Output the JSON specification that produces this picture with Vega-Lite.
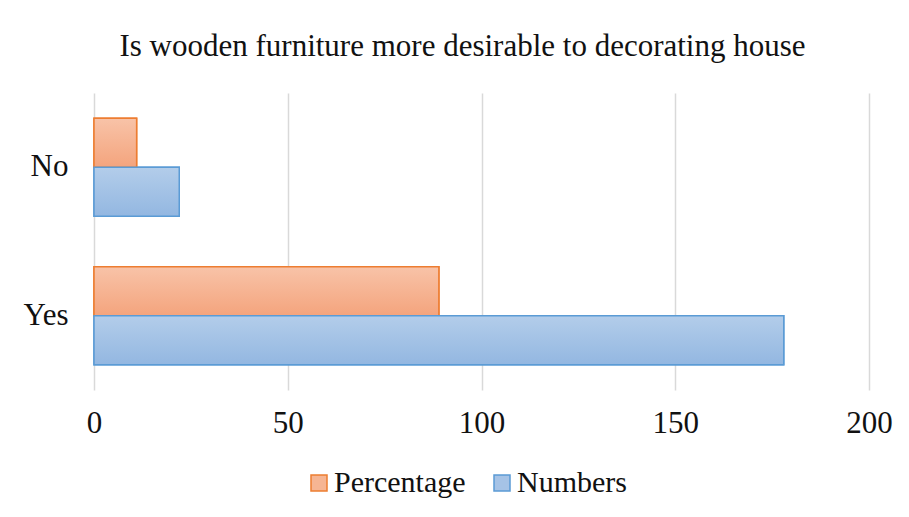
{
  "$schema": "https://vega.github.io/schema/vega-lite/v6.json",
  "width": 775,
  "height": 297,
  "autosize": {"type": "none"},
  "padding": {"left": 94, "top": 93, "right": 40, "bottom": 127},
  "background": "white",
  "title": {
    "text": "Is wooden furniture more desirable to decorating house",
    "font": "Liberation Serif",
    "fontSize": 31,
    "fontWeight": "normal",
    "color": "#111111",
    "anchor": "middle",
    "dx": -19,
    "offset": 30
  },
  "config": {
    "view": {"stroke": null},
    "font": "Liberation Serif"
  },
  "data": {
    "values": [
      {"answer": "No", "series": "Percentage", "value": 11},
      {"answer": "No", "series": "Numbers", "value": 22},
      {"answer": "Yes", "series": "Percentage", "value": 89},
      {"answer": "Yes", "series": "Numbers", "value": 178}
    ]
  },
  "encoding": {
    "y": {
      "field": "answer",
      "type": "nominal",
      "sort": ["No", "Yes"],
      "scale": {"paddingInner": 0.34, "paddingOuter": 0.17},
      "axis": {
        "title": null,
        "ticks": false,
        "domain": false,
        "labelFontSize": 31,
        "labelColor": "#111111",
        "labelPadding": 26,
        "labelFont": "Liberation Serif"
      }
    },
    "yOffset": {
      "field": "series",
      "type": "nominal",
      "sort": ["Percentage", "Numbers"],
      "scale": {"paddingInner": 0, "paddingOuter": 0}
    },
    "x": {
      "field": "value",
      "type": "quantitative",
      "scale": {"domain": [0, 200], "nice": false},
      "axis": {
        "title": null,
        "values": [0, 50, 100, 150, 200],
        "ticks": false,
        "domain": false,
        "grid": true,
        "gridColor": "#d9d9d9",
        "gridWidth": 1.5,
        "labelFlush": false,
        "labelFontSize": 31,
        "labelColor": "#111111",
        "labelPadding": 18,
        "labelFont": "Liberation Serif"
      }
    }
  },
  "layer": [
    {
      "mark": {"type": "bar", "strokeWidth": 1.5, "fillOpacity": 1},
      "encoding": {
        "fill": {
          "field": "series",
          "type": "nominal",
          "sort": ["Percentage", "Numbers"],
          "scale": {"domain": ["Percentage", "Numbers"], "range": ["#f6b593", "#a6c3e6"]},
          "legend": {
            "title": null,
            "orient": "none",
            "legendX": 210,
            "legendY": 375,
            "direction": "horizontal",
            "symbolType": "square",
            "symbolSize": 256,
            "symbolStrokeWidth": 1.5,
            "symbolOpacity": 1,
            "labelFontSize": 30,
            "labelColor": "#111111",
            "labelFont": "Liberation Serif",
            "columnPadding": 21,
            "labelOffset": 0
          }
        },
        "stroke": {
          "field": "series",
          "type": "nominal",
          "sort": ["Percentage", "Numbers"],
          "scale": {"domain": ["Percentage", "Numbers"], "range": ["#ed7d31", "#5b9bd5"]},
          "legend": {
            "title": null,
            "orient": "none",
            "legendX": 210,
            "legendY": 375,
            "direction": "horizontal",
            "symbolType": "square",
            "symbolSize": 256,
            "symbolStrokeWidth": 1.5,
            "symbolOpacity": 1,
            "labelFontSize": 30,
            "labelColor": "#111111",
            "labelFont": "Liberation Serif",
            "columnPadding": 21,
            "labelOffset": 0
          }
        }
      }
    },
    {
      "mark": {"type": "bar", "strokeWidth": 1.5},
      "encoding": {
        "fill": {
          "condition": {
            "test": "datum.series === 'Percentage'",
            "value": {
              "gradient": "linear",
              "x1": 0, "y1": 0, "x2": 0, "y2": 1,
              "stops": [
                {"offset": 0, "color": "#f8c3a8"},
                {"offset": 1, "color": "#f4a47d"}
              ]
            }
          },
          "value": {
            "gradient": "linear",
            "x1": 0, "y1": 0, "x2": 0, "y2": 1,
            "stops": [
              {"offset": 0, "color": "#b3cdea"},
              {"offset": 1, "color": "#93b7e1"}
            ]
          }
        },
        "stroke": {
          "condition": {"test": "datum.series === 'Percentage'", "value": "#ed7d31"},
          "value": "#5b9bd5"
        }
      }
    }
  ]
}
